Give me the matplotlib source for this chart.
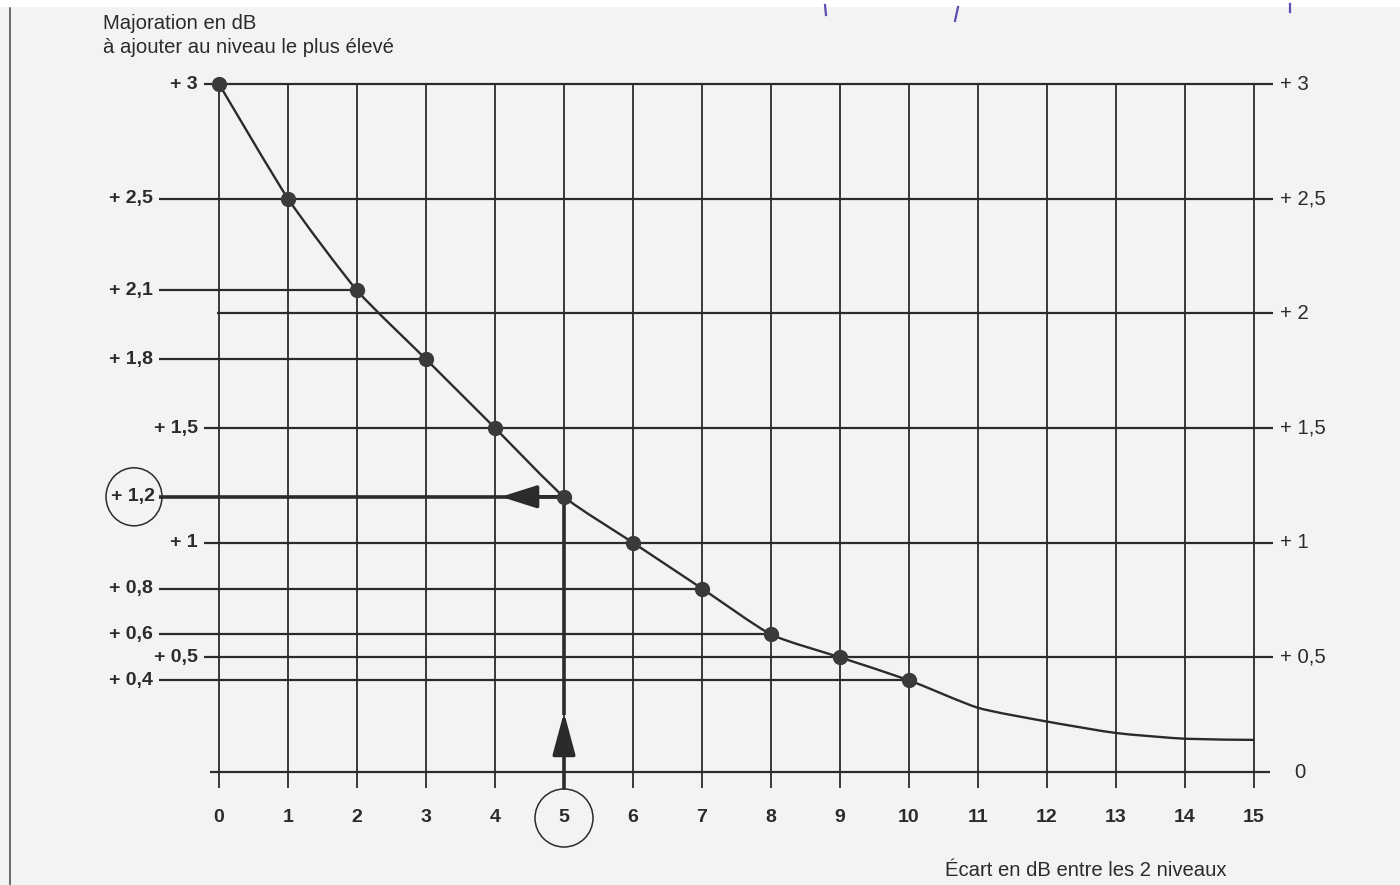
import matplotlib.pyplot as plt
from matplotlib.patches import Ellipse, PathPatch
from matplotlib.path import Path
from matplotlib.lines import Line2D

# curve: increase (dB) to add to the highest level vs. gap between the 2 levels
ecart = list(range(16))
majoration = [3.0, 2.5, 2.1, 1.8, 1.5, 1.2, 1.0, 0.8, 0.6, 0.5, 0.4,
              0.28, 0.22, 0.17, 0.145, 0.14]
n_marked = 11  # points drawn with a dot (0..10)

left_ticks = [3, 2.5, 2.1, 1.8, 1.5, 1.2, 1, 0.8, 0.6, 0.5, 0.4]
left_labels = ['+ 3', '+ 2,5', '+ 2,1', '+ 1,8', '+ 1,5', '+ 1,2', '+ 1',
               '+ 0,8', '+ 0,6', '+ 0,5', '+ 0,4']
right_ticks = [3, 2.5, 2, 1.5, 1, 0.5, 0]
right_labels = ['+ 3', '+ 2,5', '+ 2', '+ 1,5', '+ 1', '+ 0,5', '0']
x_labels = [str(v) for v in ecart]

example_x = 5
example_y = 1.2

ink = '#2b2b2b'
plt.rcParams['font.family'] = ['Liberation Sans', 'DejaVu Sans']

W, H = 1400, 885
fig = plt.figure(figsize=(W / 100, H / 100), dpi=100, facecolor='#f3f3f3')
ax = fig.add_axes([0, 0, 1, 1])
ax.set_facecolor('#f3f3f3')
ax.axis('off')

# map data units to the scanned layout (x=0 at px 219, 69 px/unit; y=0 at px 772)
px_x, x0 = 69.0, 219.0
px_y, y0 = 229.33, 772.0
ax.set_xlim(-x0 / px_x, (W - x0) / px_x)
ax.set_ylim(-(H - y0) / px_y, y0 / px_y)


def dx(p):
    return p / px_x


def dy(p):
    return p / px_y


x_end = ecart[-1] + dx(19)
tick_low = -dy(16)
fs_bold = 14
fs = 14.6

# vertical grid
for x in ecart:
    ax.vlines(x, tick_low, 3, color=ink, lw=1.3, zorder=1)

# horizontal lines
short = {3, 1.5, 1, 0.5}
for y, lab in zip(left_ticks, left_labels):
    start = -dx(15) if y in short else -dx(60)
    if y in right_ticks:
        end = x_end
    else:
        end = ecart[majoration.index(y)]
    lw = 2.6 if y == example_y else 1.6
    ax.hlines(y, start, end, color=ink, lw=lw, zorder=1)
    big = lab == '+ 1,2'
    ax.text(start - dx(6 if not big else 4), y, lab, ha='right', va='center',
            fontsize=fs_bold, fontweight='bold', color=ink)

for y, lab in zip(right_ticks, right_labels):
    if y not in left_ticks:
        start = -dx(2) if y == 2 else -dx(9)
        ax.hlines(y, start, x_end - (dx(3) if y == 0 else 0), color=ink,
                  lw=1.6, zorder=1)
    xt = x_end + dx(7) + (dx(14) if y == 0 else 0)
    ax.text(xt, y, lab, ha='left', va='center', fontsize=fs, color=ink)

# x labels
for x, lab in zip(ecart, x_labels):
    ax.text(x, -dy(46), lab, ha='center', va='center', fontsize=fs_bold,
            fontweight='bold', color=ink)

# smooth curve through the read values (cubic Bezier segments, low tension)
k = 10.0
verts = [(ecart[0], majoration[0])]
codes = [Path.MOVETO]
n = len(ecart)
for i in range(n - 1):
    p0 = (ecart[max(i - 1, 0)], majoration[max(i - 1, 0)])
    p1 = (ecart[i], majoration[i])
    p2 = (ecart[i + 1], majoration[i + 1])
    p3 = (ecart[min(i + 2, n - 1)], majoration[min(i + 2, n - 1)])
    c1 = (p1[0] + (p2[0] - p0[0]) / k, p1[1] + (p2[1] - p0[1]) / k)
    c2 = (p2[0] - (p3[0] - p1[0]) / k, p2[1] - (p3[1] - p1[1]) / k)
    verts += [c1, c2, p2]
    codes += [Path.CURVE4] * 3
ax.add_patch(PathPatch(Path(verts, codes), fill=False, ec=ink, lw=1.7,
                       zorder=3))
ax.plot(ecart[:n_marked], majoration[:n_marked], 'o', color='#3a3a3a',
        ms=10, zorder=4)

# worked example: 5 dB gap -> +1.2 dB
ax.vlines(example_x, 0.25, example_y, color=ink, lw=2.6, zorder=2)
ax.annotate('', xy=(example_x, 0.26), xytext=(example_x, tick_low),
            arrowprops=dict(arrowstyle='-|>,head_length=2.6,head_width=0.7',
                            color=ink, lw=2.6, shrinkA=0, shrinkB=0), zorder=2)
ax.annotate('', xy=(example_x - dx(63), example_y),
            xytext=(example_x, example_y),
            arrowprops=dict(arrowstyle='-|>,head_length=2.2,head_width=0.7',
                            color=ink, lw=2.6, shrinkA=0, shrinkB=0), zorder=2)

ax.add_patch(Ellipse((example_x, -dy(46)), dx(58), dy(58), fill=False,
                     ec=ink, lw=1.1))
ax.add_patch(Ellipse((-dx(85), example_y), dx(56), dy(58), fill=False,
                     ec=ink, lw=1.1))

# titles
ax.text(-dx(116), dy(y0 - 14), 'Majoration en dB\nà ajouter au niveau le plus élevé',
        ha='left', va='top', fontsize=fs, color=ink, linespacing=1.32)
ax.text(dx(945 - x0), -dy(870 - y0), 'Écart en dB entre les 2 niveaux',
        ha='left', va='center', fontsize=fs, color=ink)

# scan remains: left border and pen marks
fig.add_artist(Line2D([10 / W, 10 / W], [0, 1 - 8 / H], color='#555555', lw=1.2))
fig.add_artist(Line2D([0, 1], [1 - 3 / H, 1 - 3 / H], color='white', lw=6))
for (xa, ya, xb, yb) in [(825, 5, 826, 15), (958, 7, 955, 21), (1290, 4, 1290, 12)]:
    fig.add_artist(Line2D([xa / W, xb / W], [1 - ya / H, 1 - yb / H],
                          color='#5a4fb0', lw=1.6))

fig.savefig('out.png', dpi=100, facecolor=fig.get_facecolor())
